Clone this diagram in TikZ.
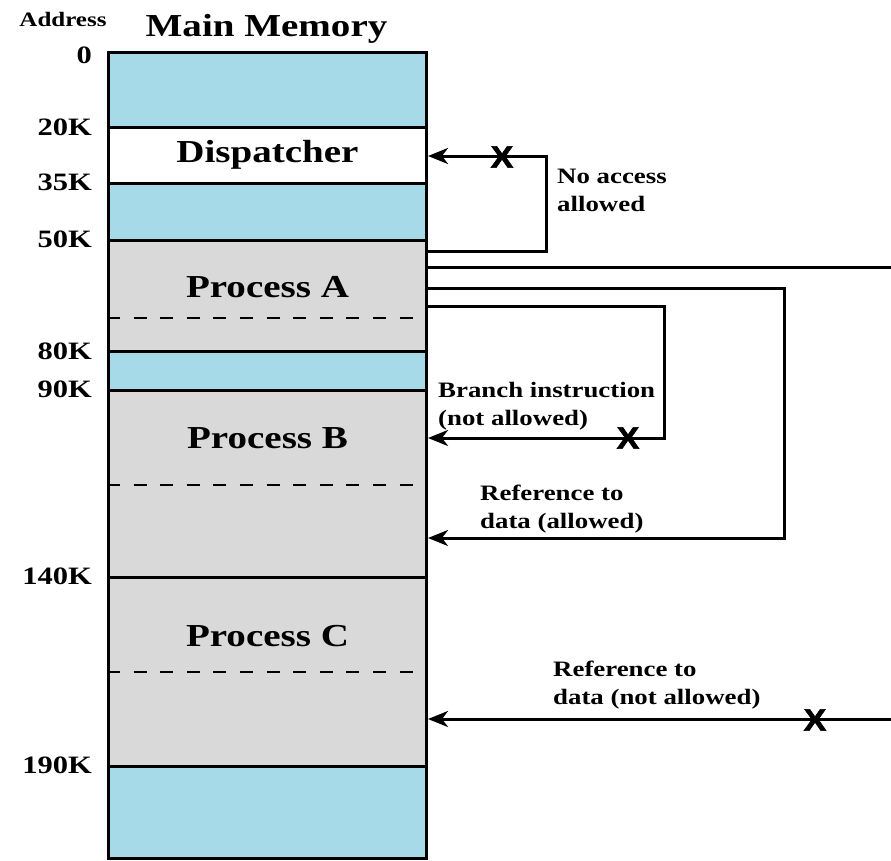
\documentclass[tikz,border=0pt]{standalone}
\usepackage{fontspec}
\setmainfont{Liberation Serif}[FakeStretch=1.22]
\newfontfamily\crossfont{Liberation Sans}[FakeStretch=1.1, BoldFeatures={FakeBold=2}]
\usetikzlibrary{arrows.meta}
\definecolor{freeblue}{HTML}{A6DAE8}
\definecolor{procgray}{HTML}{D9D9D9}

\begin{document}
\begin{tikzpicture}[x=1pt,y=-1pt,
  region/.style={draw=black, line width=3pt, minimum width=318pt,
    anchor=north west, inner sep=0pt, outer sep=0pt},
  partline/.style={line width=2.8pt, dash pattern=on 13pt off 13.6pt, dash phase=3pt},
  conn/.style={line width=3pt},
  arrowconn/.style={conn, -{Stealth[length=20pt, width=16pt, inset=6pt]}},
  biglabel/.style={font=\fontsize{32}{38}\selectfont\bfseries, inner sep=0pt},
  addrlabel/.style={font=\fontsize{25}{30}\selectfont\bfseries, inner sep=0pt, anchor=base east},
  sidelabel/.style={font=\fontsize{22}{27.5}\selectfont\bfseries, inner sep=0pt,
    align=left, anchor=base west},
  crossmark/.style={font=\fontsize{31}{31}\crossfont\bfseries, inner sep=0pt}
]
\useasboundingbox (0,0) rectangle (891,860);

% memory column, top to bottom
\node[region, fill=freeblue, minimum height=75pt]  (free0) at (108.5,52) {};
\node[region, fill=white,    minimum height=56pt]  (disp)  at (108.5,127) {};
\node[region, fill=freeblue, minimum height=57pt]  (free1) at (108.5,183) {};
\node[region, fill=procgray, minimum height=111pt] (procA) at (108.5,240) {};
\node[region, fill=freeblue, minimum height=39pt]  (free2) at (108.5,351) {};
\node[region, fill=procgray, minimum height=187pt] (procB) at (108.5,390) {};
\node[region, fill=procgray, minimum height=189pt] (procC) at (108.5,577) {};
\node[region, fill=freeblue, minimum height=92.5pt] (free3) at (108.5,766) {};

% dashed partition lines inside each process
\draw[partline] (110,318) -- (414,318);
\draw[partline] (110,485) -- (414,485);
\draw[partline] (110,672) -- (414,672);

% headings
\node[font=\fontsize{20.5}{24}\selectfont\bfseries, inner sep=0pt, anchor=base] (addrhead) at (63,26) {Address};
\node[biglabel, anchor=base] (memhead) at (266.5,36) {Main Memory};

% region names
\node[biglabel] (dispname) at (disp.center) {Dispatcher};
\node[biglabel, anchor=base] (procAname) at (267.5,297) {Process A};
\node[biglabel, anchor=base] (procBname) at (267.5,448) {Process B};
\node[biglabel, anchor=base] (procCname) at (267.5,646) {Process C};

% addresses
\node[addrlabel] (a0)   at (92,63)  {0};
\node[addrlabel] (a20)  at (92,135) {20K};
\node[addrlabel] (a35)  at (92,190) {35K};
\node[addrlabel] (a50)  at (92,247) {50K};
\node[addrlabel] (a80)  at (92,359) {80K};
\node[addrlabel] (a90)  at (92,397) {90K};
\node[addrlabel] (a140) at (92,584) {140K};
\node[addrlabel] (a190) at (92,773) {190K};

% connector end points on the column edge
\coordinate (outDisp)   at (427,251);
\coordinate (inDisp)    at (428,156);
\coordinate (turnDisp)  at (546.5,200);
\coordinate (outRight)  at (427,267);
\coordinate (edgeTop)   at (891,267);
\coordinate (outData)   at (427,288);
\coordinate (turnData)  at (784,400);
\coordinate (inData)    at (428,538);
\coordinate (outBranch) at (427,306);
\coordinate (turnBranch) at (664,370);
\coordinate (inBranch)  at (428,438);
\coordinate (edgeLow)   at (891,719);
\coordinate (inProcC)   at (428,719);

% connectors
\draw[arrowconn] (outDisp) -| (turnDisp) |- (inDisp);
\draw[conn] (outRight) -- (edgeTop);
\draw[arrowconn] (outData) -| (turnData) |- (inData);
\draw[arrowconn] (outBranch) -| (turnBranch) |- (inBranch);
\draw[arrowconn] (edgeLow) -- (inProcC);

% blocked accesses
\node[crossmark] (xDisp)   at (502,157) {X};
\node[crossmark] (xBranch) at (628,438) {X};
\node[crossmark] (xProcC)  at (815,720) {X};

% connector labels (anchored on the baseline of the last line)
\node[sidelabel] (lblDisp)   at (557,211) {No access\\allowed};
\node[sidelabel] (lblBranch) at (438,425) {Branch instruction\\(not allowed)};
\node[sidelabel] (lblData)   at (480,528) {Reference to\\data (allowed)};
\node[sidelabel] (lblProcC)  at (553,704) {Reference to\\data (not allowed)};
\end{tikzpicture}
\end{document}
